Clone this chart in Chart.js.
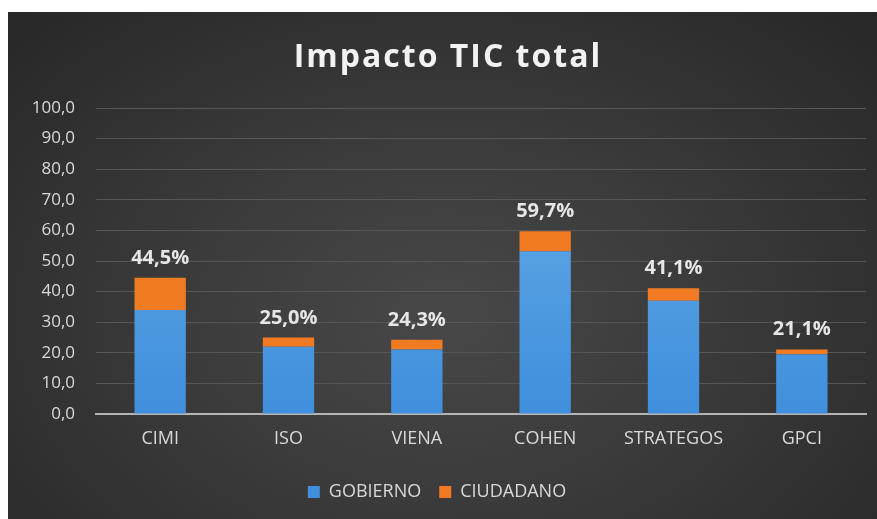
<!DOCTYPE html>
<html>
<head>
<meta charset="utf-8">
<script src="https://cdn.jsdelivr.net/npm/chart.js@4/dist/chart.umd.min.js"></script>
<style>
  html, body { margin: 0; padding: 0; background: #fff; }
  #wrap {
    position: absolute; left: 8px; top: 12px; width: 869px; height: 507px;
    background: radial-gradient(ellipse at 50% 60%, #484848 0%, #3a3a3a 45%, #272727 100%);
  }
  canvas { display: block; }
</style>
</head>
<body>
<div id="wrap"><canvas id="impactChart" width="869" height="507"></canvas></div>
<script>
const categories = ['CIMI', 'ISO', 'VIENA', 'COHEN', 'STRATEGOS', 'GPCI'];
const gobierno = [34.0, 22.0, 21.1, 53.2, 37.0, 19.5];
const ciudadano = [10.5, 3.0, 3.2, 6.5, 4.1, 1.6];
const totalLabels = ['44,5%', '25,0%', '24,3%', '59,7%', '41,1%', '21,1%'];
const chartTitle = 'Impacto TIC total';

const textColor = '#d9d9d9';
const font = "'Open Sans', 'DejaVu Sans', sans-serif";

// title with letter spacing, drawn by hand (the title plugin can't space letters)
const titlePlugin = {
    id: 'spacedTitle',
    afterDraw(chart){
        const ctx = chart.ctx;
        ctx.save();
        ctx.fillStyle = '#f2f2f2';
        ctx.font = 'bold 32px ' + font;
        ctx.letterSpacing = '2px';
        ctx.textAlign = 'center';
        ctx.textBaseline = 'alphabetic';
        ctx.fillText(chartTitle, 440, 55);
        ctx.restore();
    }
};

const totalsPlugin = {
    id: 'totals',
    afterDatasetsDraw(chart){
        const ctx = chart.ctx;
        const y = chart.scales.y;
        const meta = chart.getDatasetMeta(1);
        ctx.save();
        ctx.fillStyle = '#e6e6e6';
        ctx.font = 'bold 20px ' + font;
        ctx.textAlign = 'center';
        ctx.textBaseline = 'alphabetic';
        categories.forEach((c, i) => {
            const total = gobierno[i] + ciudadano[i];
            ctx.fillText(totalLabels[i], meta.data[i].x, y.getPixelForValue(total) - 14);
        });
        ctx.restore();
    }
};

function blueFill(context){
    const chart = context.chart;
    const area = chart.chartArea;
    if(!area) return '#5b9bd5';
    const g = chart.ctx.createLinearGradient(0, area.top, 0, area.bottom);
    g.addColorStop(0, '#6aaee8');
    g.addColorStop(1, '#3f8fdc');
    return g;
}

new Chart(document.getElementById('impactChart'), {
    type: 'bar',
    data: {
        labels: categories,
        datasets: [{
            label: 'GOBIERNO',
            data: gobierno,
            backgroundColor: blueFill,
            categoryPercentage: 0.8,
            barPercentage: 0.5
        }, {
            label: 'CIUDADANO',
            data: ciudadano,
            backgroundColor: '#f07b22',
            categoryPercentage: 0.8,
            barPercentage: 0.5
        }]
    },
    options: {
        responsive: false,
        animation: false,
        layout: { padding: { left: 0, right: 11, top: 96, bottom: 8 } },
        plugins: {
            title: { display: false },
            legend: {
                position: 'bottom',
                labels: {
                    color: textColor,
                    font: { family: font, size: 18 },
                    boxWidth: 12,
                    boxHeight: 12,
                    padding: 18
                }
            },
            tooltip: { enabled: false }
        },
        scales: {
            x: {
                stacked: true,
                afterFit(scale){ scale.height = 51; },
                grid: { display: false },
                border: { color: '#b5b5b5', width: 2 },
                ticks: { color: textColor, font: { family: font, size: 18 }, padding: 6 }
            },
            y: {
                stacked: true,
                min: 0,
                max: 100,
                afterFit(scale){ scale.width = 88; },
                grid: { color: '#575757', drawTicks: false },
                border: { display: false },
                ticks: {
                    stepSize: 10,
                    color: textColor,
                    padding: 21,
                    font: { family: font, size: 17 },
                    callback: v => v.toFixed(1).replace('.', ',')
                }
            }
        }
    },
    plugins: [totalsPlugin, titlePlugin]
});
</script>
</body>
</html>
